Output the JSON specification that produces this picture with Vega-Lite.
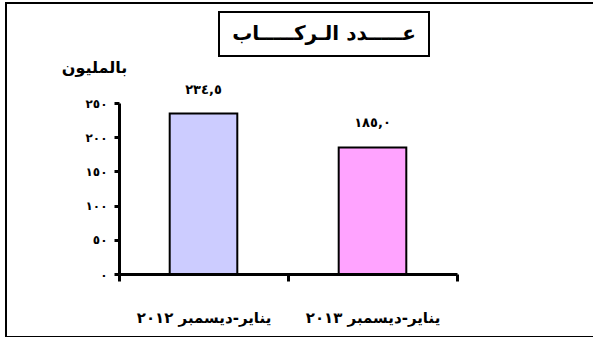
{
  "$schema": "https://vega.github.io/schema/vega-lite/v6.json",
  "background": "white",
  "padding": {"left": 6, "top": 3, "right": 0, "bottom": 0},
  "width": 636,
  "height": 334,
  "view": {"stroke": "black", "strokeWidth": 2},
  "config": {"font": "DejaVu Sans"},
  "layer": [
    {
      "data": {"values": [
        {"period": "يناير-ديسمبر ٢٠١٢", "passengers": 234.5, "label": "٢٣٤,٥"},
        {"period": "يناير-ديسمبر ٢٠١٣", "passengers": 185.0, "label": "١٨٥,٠"}
      ]},
      "encoding": {
        "x": {
          "field": "period", "type": "nominal", "sort": null,
          "scale": {"range": [113, 451], "paddingInner": 0, "paddingOuter": 0},
          "axis": {
            "title": null, "orient": "bottom", "offset": -63,
            "domainColor": "black", "domainWidth": 3,
            "tickColor": "black", "tickWidth": 3, "tickSize": 7, "tickBand": "extent",
            "labelAngle": 0, "labelFont": "DejaVu Sans", "labelFontSize": 15, "labelFontWeight": "bold",
            "labelColor": "black", "labelPadding": 29, "labelLimit": 0
          }
        },
        "y": {
          "field": "passengers", "type": "quantitative",
          "scale": {"domain": [0, 250], "range": [271, 100], "nice": false},
          "axis": {
            "title": "بالمليون", "offset": -113, "values": [0, 50, 100, 150, 200, 250],
            "grid": false,
            "domainColor": "black", "domainWidth": 3,
            "tickColor": "black", "tickWidth": 3, "tickSize": 5,
            "labelFont": "DejaVu Sans", "labelFontSize": 12, "labelFontWeight": "bold", "labelColor": "black", "labelPadding": 7,
            "labelExpr": "replace(replace(replace(replace(replace(replace(replace(replace(replace(replace(datum.label,regexp('0','g'),'٠'),regexp('1','g'),'١'),regexp('2','g'),'٢'),regexp('3','g'),'٣'),regexp('4','g'),'٤'),regexp('5','g'),'٥'),regexp('6','g'),'٦'),regexp('7','g'),'٧'),regexp('8','g'),'٨'),regexp('9','g'),'٩')",
            "titleAngle": 0, "titleX": -25, "titleY": 64, "titleAlign": "center", "titleBaseline": "middle",
            "titleFont": "DejaVu Sans", "titleFontSize": 16, "titleFontWeight": "bold", "titleColor": "black"
          }
        }
      },
      "layer": [
        {
          "mark": {"type": "bar", "stroke": "black", "strokeWidth": 2, "width": {"band": 0.4}},
          "encoding": {
            "color": {"field": "period", "type": "nominal", "sort": null, "scale": {"range": ["#CCCCFF", "#FFA3FF"]}, "legend": null}
          }
        },
        {
          "mark": {"type": "text", "baseline": "bottom", "dy": -17, "font": "DejaVu Sans", "fontSize": 13, "fontWeight": "bold", "color": "black"},
          "encoding": {"text": {"field": "label", "type": "nominal"}}
        }
      ]
    },
    {
      "data": {"values": [{"title": "عـــــدد الـركـــــاب"}]},
      "layer": [
        {
          "mark": {"type": "point", "shape": "M-1,-0.2095L1,-0.2095L1,0.2095L-1,0.2095Z", "size": 44100, "filled": false, "stroke": "black", "strokeWidth": 2, "opacity": 1},
          "encoding": {"y": {"datum": 351, "type": "quantitative"}}
        },
        {
          "mark": {"type": "text", "font": "DejaVu Sans", "fontSize": 20, "fontWeight": "bold", "color": "black", "align": "center", "baseline": "middle"},
          "encoding": {
            "y": {"datum": 351, "type": "quantitative"},
            "text": {"field": "title", "type": "nominal"}
          }
        }
      ]
    }
  ]
}
